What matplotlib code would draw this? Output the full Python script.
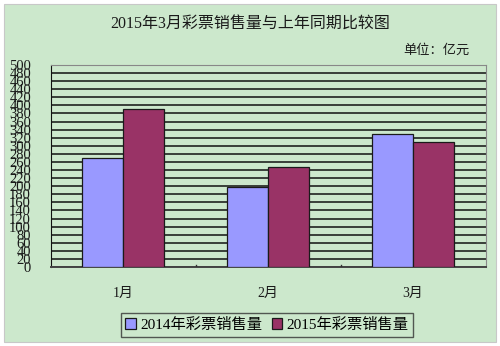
import numpy as np
import matplotlib.pyplot as plt
from matplotlib.patches import Rectangle

### Data
months = ['1月', '2月', '3月']
sales_2014 = [270, 198, 328]
sales_2015 = [391, 247, 309]
labels = ['2014年彩票销售量', '2015年彩票销售量']
y_ticks = list(range(0, 501, 20))

### Fonts
fam = ['Liberation Serif', 'Noto Sans CJK SC']
plt.rcParams['font.family'] = fam

bg = '#cce8cc'
fig = plt.figure(figsize=(5.0, 3.46), dpi=100, facecolor='white')
fig.patches.append(Rectangle((4 / 500, 4 / 346), 492 / 500, 338 / 346,
                             transform=fig.transFigure, facecolor=bg,
                             edgecolor='#c8c8c8', lw=0.8, zorder=-10))

ax = fig.add_axes([50.5 / 500, 79 / 346, 435 / 500, 202 / 346])
ax.set_facecolor(bg)

x = np.arange(len(months))
w = 0.286
ax.bar(x - w / 2, sales_2014, w, color='#9999ff', edgecolor='#1a1a1a', lw=0.9,
       label=labels[0], zorder=3)
ax.bar(x + w / 2, sales_2015, w, color='#993366', edgecolor='#1a1a1a', lw=0.9,
       label=labels[1], zorder=3)

ax.set_xlim(-0.5, 2.5)
ax.set_ylim(0, 500)
ax.set_yticks(y_ticks)
ax.set_yticklabels([str(v) for v in y_ticks], fontsize=10.5, color='#1a1a1a')
ax.tick_params(axis='y', length=0, pad=14)
ax.set_xticks(x)
ax.set_xticklabels(months, fontsize=10, color='#1a1a1a')
ax.tick_params(axis='x', length=0, pad=14)
for xb in [0.5, 1.5]:
    ax.plot([xb, xb], [0, 6], color='#333333', lw=1, zorder=4)

ax.grid(axis='y', color='#111111', lw=1.1, zorder=0)
ax.set_axisbelow(True)
ax.spines['left'].set_color('#111111')
ax.spines['bottom'].set_color('#444444')
ax.spines['bottom'].set_linewidth(1.4)
ax.spines['top'].set_color('#888888')
ax.spines['right'].set_color('#888888')

fig.text(0.5, 1 - 25 / 346, '2015年3月彩票销售量与上年同期比较图', ha='center',
         va='center', fontsize=11.5, family=fam, color='#1a1a1a')
fig.text(470 / 500, 1 - 50 / 346, '单位：亿元', ha='right', va='center',
         fontsize=9.5, family=fam, color='#1a1a1a')

leg = fig.legend(loc='center', bbox_to_anchor=(267 / 500, 1 - 325 / 346), ncol=2,
                 fontsize=11, frameon=True, fancybox=False, handlelength=0.7,
                 handleheight=0.7, handletextpad=0.3, columnspacing=0.6,
                 borderpad=0.3)
leg.get_frame().set_facecolor(bg)
leg.get_frame().set_edgecolor('#333333')
leg.get_frame().set_linewidth(1)

fig.savefig('out.png', dpi=100, facecolor='white')
